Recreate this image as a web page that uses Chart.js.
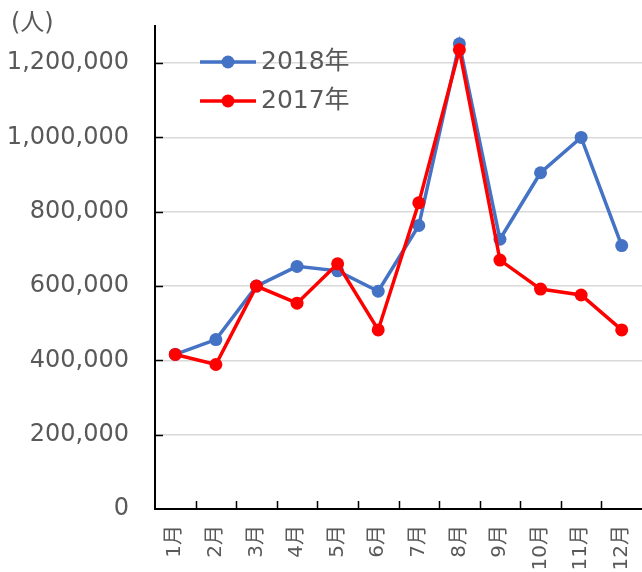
<!DOCTYPE html>
<html>
<head>
<meta charset="utf-8">
<script src="https://cdn.jsdelivr.net/npm/chart.js@4.4.1/dist/chart.umd.min.js"></script>
<style>
  html, body { margin: 0; padding: 0; background: #fff; overflow: hidden; }
  canvas { display: block; }
</style>
</head>
<body>
<canvas id="chart" width="642" height="572"></canvas>
<script>
// データ
const months = ["1月","2月","3月","4月","5月","6月","7月","8月","9月","10月","11月","12月"];
const visitors2018 = [416000, 456000, 600000, 653000, 641000, 586000, 763000, 1252000, 726000, 905000, 1000000, 709000];
const visitors2017 = [416000, 389000, 600000, 554000, 660000, 482000, 824000, 1236000, 670000, 592000, 576000, 482000];
const yTicks = [0, 200000, 400000, 600000, 800000, 1000000, 1200000];
const yMax = 1300000;
const unitLabel = "(人)";

const FONT = '"DejaVu Sans", "Noto Sans CJK JP", sans-serif';
const TEXT = '#595959';

// 内向きの目盛り線
const innerTicks = {
  id: 'innerTicks',
  beforeDatasetsDraw(chart) {
    const { ctx, scales: { x, y } } = chart;
    ctx.save();
    ctx.strokeStyle = '#000';
    ctx.lineWidth = 1.5;
    ctx.beginPath();
    y.ticks.forEach(t => {
      if (t.value === 0) return;
      const py = Math.round(y.getPixelForValue(t.value)) + 0.5;
      ctx.moveTo(x.left, py);
      ctx.lineTo(x.left + 8, py);
    });
    for (let i = 1; i < months.length; i++) {
      const px = Math.round((x.getPixelForValue(i - 1) + x.getPixelForValue(i)) / 2) + 0.5;
      ctx.moveTo(px, y.bottom);
      ctx.lineTo(px, y.bottom - 8);
    }
    ctx.stroke();
    ctx.restore();
  }
};

// 凡例（グラフ内）と単位
const insideLegend = {
  id: 'insideLegend',
  afterDraw(chart) {
    const ctx = chart.ctx;
    const rows = [0, 1];
    ctx.save();
    rows.forEach((i, n) => {
      const ds = chart.data.datasets[i];
      const cy = 62 + n * 39;
      ctx.strokeStyle = ds.borderColor;
      ctx.lineWidth = ds.borderWidth;
      ctx.beginPath();
      ctx.moveTo(200, cy);
      ctx.lineTo(256, cy);
      ctx.stroke();
      ctx.fillStyle = ds.backgroundColor;
      ctx.beginPath();
      ctx.arc(228, cy, ds.pointRadius, 0, Math.PI * 2);
      ctx.fill();
      ctx.fillStyle = TEXT;
      ctx.font = '25px ' + FONT;
      ctx.textBaseline = 'middle';
      ctx.textAlign = 'left';
      ctx.fillText(ds.label, 261, cy);
    });
    ctx.font = '24px ' + FONT;
    ctx.textBaseline = 'middle';
    ctx.fillText(unitLabel, 11, 24);
    ctx.restore();
  }
};

new Chart(document.getElementById('chart'), {
  type: 'line',
  data: {
    labels: months,
    datasets: [
      { label: '2018年', data: visitors2018, borderColor: '#4472C4', backgroundColor: '#4472C4',
        borderWidth: 3.5, pointRadius: 6.5, pointHoverRadius: 6.5, pointBorderWidth: 0, tension: 0, order: 1 },
      { label: '2017年', data: visitors2017, borderColor: '#FF0000', backgroundColor: '#FF0000',
        borderWidth: 3.5, pointRadius: 6.5, pointHoverRadius: 6.5, pointBorderWidth: 0, tension: 0, order: 0 }
    ]
  },
  options: {
    responsive: false,
    animation: false,
    devicePixelRatio: 1,
    layout: { autoPadding: false, padding: { top: 26, left: 0, right: 0, bottom: 0 } },
    plugins: { legend: { display: false }, tooltip: { enabled: false } },
    scales: {
      x: {
        offset: true,
        grid: { display: false, drawTicks: false },
        border: { color: '#000', width: 2 },
        ticks: { color: TEXT, font: { family: FONT, size: 20 }, minRotation: 90, maxRotation: 90, padding: 16, autoSkip: false },
        afterFit(scale) {
          scale.height = 63;
          scale.paddingLeft = 0;
          scale.paddingRight = 0;
        }
      },
      y: {
        min: 0,
        max: yMax,
        afterBuildTicks(scale) { scale.ticks = yTicks.map(v => ({ value: v })); },
        grid: {
          drawTicks: false,
          lineWidth: 1.5,
          color: ctx => (ctx.tick && ctx.tick.value === 0) ? 'rgba(0,0,0,0)' : '#D9D9D9'
        },
        border: { color: '#000', width: 2 },
        ticks: {
          color: TEXT,
          font: { family: FONT, size: 24 },
          padding: 26,
          callback: v => v.toLocaleString('en-US')
        },
        afterFit(scale) {
          scale.width = 155;
          scale.paddingTop = 0;
          scale.paddingBottom = 0;
        }
      }
    }
  },
  plugins: [innerTicks, insideLegend]
});
</script>
</body>
</html>
